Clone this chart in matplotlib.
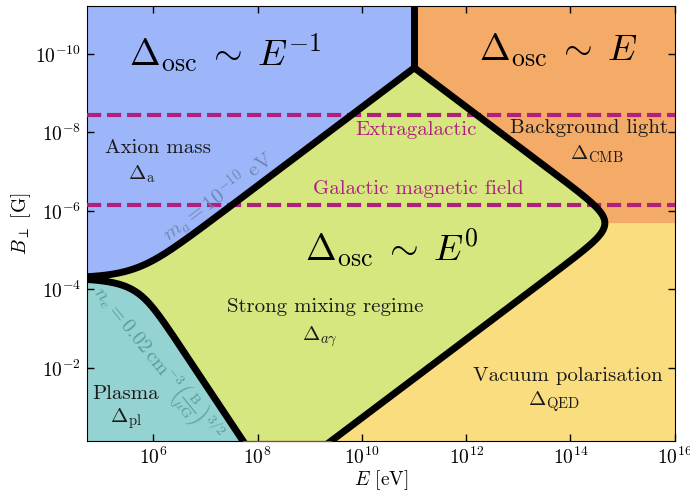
import numpy as np
import matplotlib
matplotlib.use("Agg")
import matplotlib.pyplot as plt

plt.rcParams["font.family"] = "serif"
plt.rcParams["font.serif"] = ["cmr10"]
plt.rcParams["mathtext.fontset"] = "cm"
plt.rcParams["axes.unicode_minus"] = False
plt.rcParams["axes.formatter.use_mathtext"] = True

# --- boundary parameters (log10 values) ---
LOG_EB_MA = 1.36       # log10(E*B) along the m_a = 1e-10 eV line
LOG_B_RES = -4.29      # field where plasma frequency equals axion mass
LOG_E_SPLIT = 11.0     # blue / orange split (Delta_a = Delta_CMB)
LOG_B_STAR = -5.69     # orange / yellow split (Delta_CMB = Delta_QED)
LOG_E_CROSS = 14.96    # crossing of CMB and QED asymptotes
LOG_B_EXTRAGAL = -8.43
LOG_B_GAL = -6.14

XLIM = (10**4.73, 1e16)
YLIM = (10**-0.13, 10**-11.22)
xticks = [1e6, 1e8, 1e10, 1e12, 1e14, 1e16]
yticks = [1e-10, 1e-8, 1e-6, 1e-4, 1e-2]

colors = {
    "blue": "#9db6f9",
    "orange": "#f4ab67",
    "yellow": "#fadd7e",
    "green": "#d6e77f",
    "teal": "#95d2d2",
}
MAGENTA = "#b0217f"

# labels: (text, logE, logB, size, colour)
labels = [
    (r"$\Delta_{\rm osc}\;\sim\;E^{-1}$", 7.375, -10.04, 26.5, "black"),
    (r"$\Delta_{\rm osc}\;\sim\;E$", 13.77, -10.09, 26.5, "black"),
    (r"$\Delta_{\rm osc}\;\sim\;E^{0}$", 10.57, -5.07, 26.5, "black"),
    ("Axion mass", 6.09, -7.61, 15, "#1a1a1a"),
    (r"$\Delta_{\rm a}$", 5.78, -6.93, 15, "#1a1a1a"),
    ("Background light", 14.36, -8.12, 15, "#1a1a1a"),
    (r"$\Delta_{\rm CMB}$", 14.5, -7.44, 15, "#1a1a1a"),
    ("Strong mixing regime", 9.29, -3.55, 15, "#1a1a1a"),
    (r"$\Delta_{a\gamma}$", 9.19, -2.79, 15, "#1a1a1a"),
    ("Plasma", 5.48, -1.35, 15, "#1a1a1a"),
    (r"$\Delta_{\rm pl}$", 5.48, -0.71, 15, "#1a1a1a"),
    ("Vacuum polarisation", 13.95, -1.8, 15, "#1a1a1a"),
    (r"$\Delta_{\rm QED}$", 13.69, -1.14, 15, "#1a1a1a"),
    ("Extragalactic", 11.04, -8.07, 15, MAGENTA),
    ("Galactic magnetic field", 11.08, -6.55, 15, MAGENTA),
]

# --- boundary curves ---
B = np.logspace(-11.6, 0.3, 6000)
B_res = 10**LOG_B_RES
E_left = 10**LOG_EB_MA * np.abs((B / B_res)**1.5 - 1) / B
E_left = np.maximum(E_left, 1e3)
u = B / 10**LOG_B_STAR
E_right = 10**LOG_E_CROSS * u / (1 + u**2)
B_peak = B[np.argmax((E_left <= E_right) & (B < B_res))]

E_lo, E_hi = 1e3, 1e17

fig = plt.figure(figsize=(6.9, 4.93), dpi=100)
ax = fig.add_axes([0.126, 0.1045, 0.852, 0.8835])
ax.set_xscale("log")
ax.set_yscale("log")

above_res = B <= B_res
ax.fill_betweenx(B, E_lo, np.minimum(E_left, 10**LOG_E_SPLIT), where=above_res,
                 color=colors["blue"], lw=0)
ax.fill_betweenx(B, E_lo, E_left, where=~above_res, color=colors["teal"], lw=0)
above_star = B <= 10**LOG_B_STAR
ax.fill_betweenx(B, np.maximum(E_right, 10**LOG_E_SPLIT), E_hi, where=above_star,
                 color=colors["orange"], lw=0)
ax.fill_betweenx(B, E_right, E_hi, where=~above_star, color=colors["yellow"], lw=0)
green = (B >= B_peak) & (E_left < E_right)
ax.fill_betweenx(B, E_left, E_right, where=green, color=colors["green"], lw=0)

# faint edge along the bottom of the strong mixing region
B_bot = YLIM[0]
ib = np.argmin(np.abs(B - B_bot))
ax.plot([E_left[ib], E_right[ib]], [B_bot, B_bot], color="#c8504f", lw=0.9,
        alpha=0.8, zorder=3, clip_on=False)

# dashed field lines
for lb in [LOG_B_EXTRAGAL, LOG_B_GAL]:
    ax.axhline(10**lb, color=MAGENTA, lw=3, ls="--", dashes=(3.4, 1.4), zorder=4)

# thick black boundaries
m = B >= B_peak
ex = np.concatenate([E_left[m][::-1], E_right[m]])
by = np.concatenate([B[m][::-1], B[m]])
ax.plot(ex, by, color="black", lw=5, solid_joinstyle="miter", zorder=5)
ax.plot([10**LOG_E_SPLIT, 10**LOG_E_SPLIT], [1e-13, B_peak], color="black", lw=5,
        solid_capstyle="butt", zorder=5)

for text, le, lb, size, col in labels:
    ax.text(10**le, 10**lb, text, fontsize=size, color=col, ha="center", va="center",
            zorder=6)

ax.text(10**7.24, 10**-6.37, r"$m_a = 10^{-10}$ eV", fontsize=15, color="#7087b1",
        rotation=37, ha="center", va="center", rotation_mode="anchor", zorder=6)
ax.text(10**6.07, 10**-2.09,
        r"$n_e = 0.02\,{\rm cm}^{-3}\left(\frac{\rm B}{\mu{\rm G}}\right)^{3/2}$",
        fontsize=14.5, color="#5a9d9d", rotation=-51, ha="center", va="center",
        rotation_mode="anchor", zorder=6)

ax.set_xlim(*XLIM)
ax.set_ylim(*YLIM)
ax.set_xticks(xticks)
ax.set_yticks(yticks)
ax.minorticks_off()
ax.tick_params(which="both", direction="in", top=True, right=True, length=5,
               width=1, labelsize=14, pad=4)
ax.set_xlabel(r"$E$ [eV]", fontsize=14, labelpad=0)
ax.set_ylabel(r"$B_\perp$ [G]", fontsize=14, labelpad=2)

fig.savefig("out.png", dpi=100)
